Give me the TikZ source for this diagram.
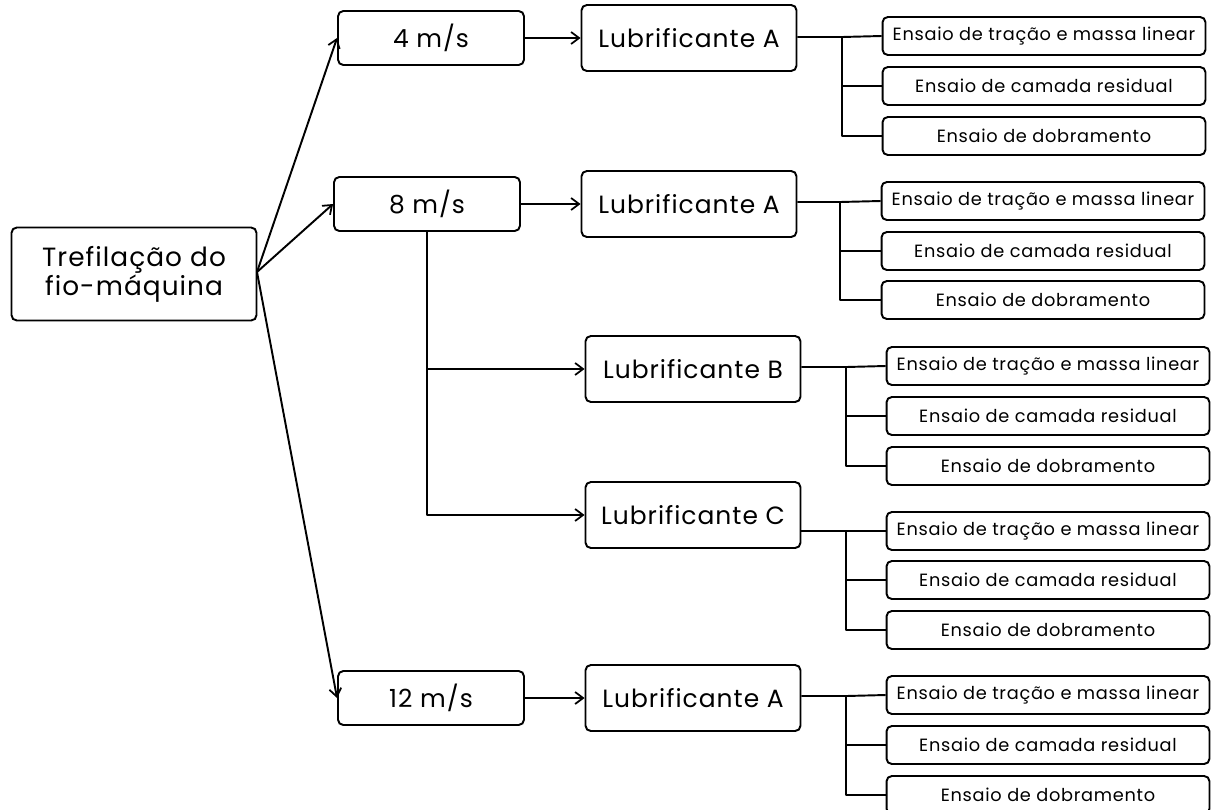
\documentclass[tikz,border=0pt]{standalone}
\usepackage{fontspec}
\setmainfont{Poppins}[LetterSpace=4]
\usetikzlibrary{arrows.meta}

\begin{document}
\begin{tikzpicture}[x=0.02cm,y=-0.02cm]
\tikzset{
  box/.style={rectangle,rounded corners=3pt,draw=black,line width=1.1pt,inner sep=1pt,align=center},
  rootbox/.style={box,minimum width=4.9cm,minimum height=1.86cm,font=\fontsize{15}{15.5}\selectfont},
  speedbox/.style={box,minimum width=3.72cm,minimum height=1.08cm,font=\fontsize{14.2}{16}\selectfont},
  lubbox/.style={box,minimum width=4.3cm,minimum height=1.32cm,font=\fontsize{14.2}{16}\selectfont},
  testbox/.style={box,minimum width=6.46cm,minimum height=0.76cm,font=\fontsize{10.1}{12}\selectfont},
  link/.style={draw=black,line width=1.1pt,line join=round},
  arrow/.style={link,-{Straight Barb[length=1.6mm,width=2.4mm,line width=1pt]}}
}
\useasboundingbox (0,0) rectangle (1216,809);
% nodes
\node[rootbox] (root) at (134,274) {Trefilação do\\fio-máquina};
\node[speedbox] (v4) at (431,38) {4 m/s};
\node[speedbox] (v8) at (427,204) {8 m/s};
\node[speedbox] (v12) at (431,698) {12 m/s};
\node[lubbox] (lubA1) at (689,38) {Lubrificante A};
\node[lubbox] (lubA2) at (689,204) {Lubrificante A};
\node[lubbox] (lubB) at (693,369) {Lubrificante B};
\node[lubbox] (lubC) at (693,515) {Lubrificante C};
\node[lubbox] (lubA3) at (693,698) {Lubrificante A};
\node[testbox] (tA1a) at (1044,36) {Ensaio de tração e massa linear};
\node[testbox] (tA1b) at (1044,86) {Ensaio de camada residual};
\node[testbox] (tA1c) at (1044,136) {Ensaio de dobramento};
\node[testbox] (tA2a) at (1043,201) {Ensaio de tração e massa linear};
\node[testbox] (tA2b) at (1043,251) {Ensaio de camada residual};
\node[testbox] (tA2c) at (1043,300) {Ensaio de dobramento};
\node[testbox] (tBa) at (1048,366) {Ensaio de tração e massa linear};
\node[testbox] (tBb) at (1048,416) {Ensaio de camada residual};
\node[testbox] (tBc) at (1048,466) {Ensaio de dobramento};
\node[testbox] (tCa) at (1048,531) {Ensaio de tração e massa linear};
\node[testbox] (tCb) at (1048,580) {Ensaio de camada residual};
\node[testbox] (tCc) at (1048,630) {Ensaio de dobramento};
\node[testbox] (tA3a) at (1048,695) {Ensaio de tração e massa linear};
\node[testbox] (tA3b) at (1048,745) {Ensaio de camada residual};
\node[testbox] (tA3c) at (1048,795) {Ensaio de dobramento};
% junctions
\coordinate (rootout) at (257,272);
\coordinate (jA1) at (842,37);
\coordinate (jA2) at (840,202);
\coordinate (jB) at (846,367);
\coordinate (jC) at (846,531);
\coordinate (jA3) at (846,696);
% root to speeds
\draw[arrow] (rootout) -- (v4.west);
\draw[arrow] (rootout) -- (v8.west);
\draw[arrow] (rootout) -- (v12.west);
% speeds to lubricants
\draw[arrow] (v4) -- (lubA1);
\draw[arrow] (v8) -- (lubA2);
\draw[arrow] (v8.south) |- (lubB.west);
\draw[arrow] (v8.south) |- (lubC.west);
\draw[arrow] (v12) -- (lubA3);
% lubricants to tests
\draw[link] (lubA1.east |- jA1) -- (jA1) -- (tA1a.west);
\draw[link] (jA1) |- (tA1b.west);
\draw[link] (jA1) |- (tA1c.west);
\draw[link] (lubA2.east |- jA2) -- (jA2) -- (tA2a.west);
\draw[link] (jA2) |- (tA2b.west);
\draw[link] (jA2) |- (tA2c.west);
\draw[link] (lubB.east |- jB) -- (jB) -- (tBa.west);
\draw[link] (jB) |- (tBb.west);
\draw[link] (jB) |- (tBc.west);
\draw[link] (lubC.east |- jC) -- (jC) -- (tCa.west);
\draw[link] (jC) |- (tCb.west);
\draw[link] (jC) |- (tCc.west);
\draw[link] (lubA3.east |- jA3) -- (jA3) -- (tA3a.west);
\draw[link] (jA3) |- (tA3b.west);
\draw[link] (jA3) |- (tA3c.west);
\end{tikzpicture}
\end{document}
